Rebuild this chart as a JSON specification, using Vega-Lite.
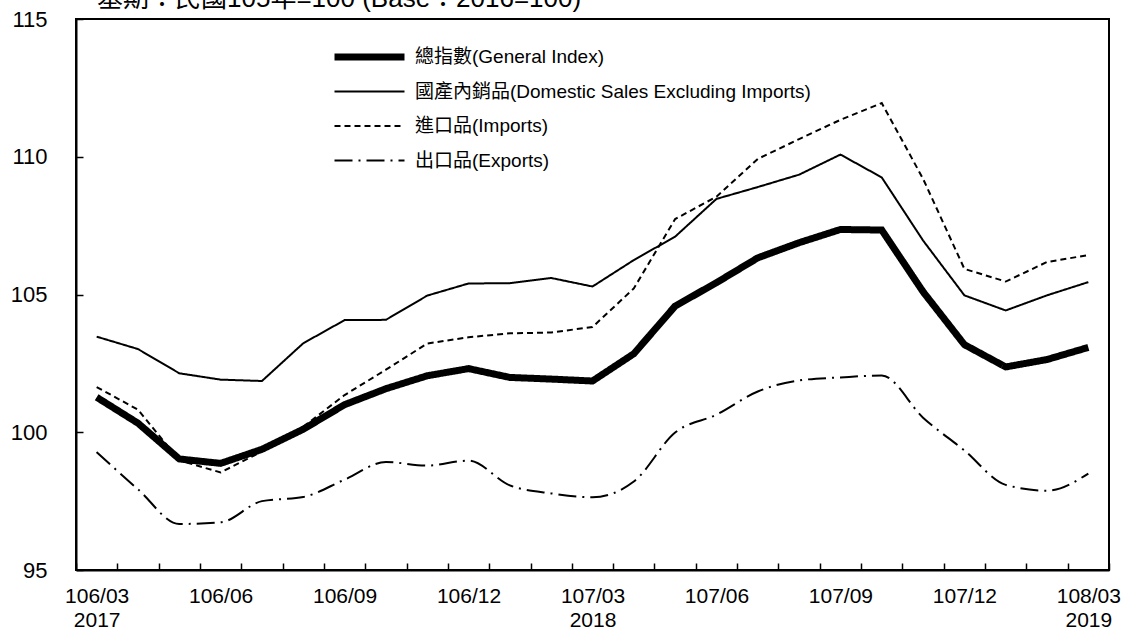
{
  "$schema": "https://vega.github.io/schema/vega-lite/v6.json",
  "width": 1033,
  "height": 551,
  "autosize": {"type": "none"},
  "padding": {"left": 76, "top": 19, "right": 16, "bottom": 62},
  "background": "white",
  "config": {
    "font": "Liberation Sans, Noto Sans CJK TC, sans-serif",
    "view": {"stroke": "black", "strokeWidth": 2}
  },
  "title": {
    "text": "基期：民國105年=100 (Base：2016=100)",
    "anchor": "start",
    "frame": "group",
    "dx": 21,
    "offset": -25,
    "baseline": "alphabetic",
    "fontSize": 26,
    "fontWeight": "normal",
    "color": "black",
    "font": "Liberation Sans, Noto Sans CJK TC, sans-serif"
  },
  "data": {
    "values": [
      {"m": "106/03", "G": 101.27, "D": 103.47, "I": 101.64, "E": 99.28},
      {"m": "106/04", "G": 100.33, "D": 103.02, "I": 100.82, "E": 97.93},
      {"m": "106/05", "G": 99.03, "D": 102.14, "I": 98.98, "E": 96.67},
      {"m": "106/06", "G": 98.87, "D": 101.91, "I": 98.54, "E": 96.73},
      {"m": "106/07", "G": 99.38, "D": 101.86, "I": 99.3, "E": 97.5},
      {"m": "106/08", "G": 100.11, "D": 103.23, "I": 100.2, "E": 97.65},
      {"m": "106/09", "G": 101.0, "D": 104.07, "I": 101.35, "E": 98.28},
      {"m": "106/10", "G": 101.58, "D": 104.08, "I": 102.27, "E": 98.92},
      {"m": "106/11", "G": 102.05, "D": 104.96, "I": 103.22, "E": 98.79},
      {"m": "106/12", "G": 102.31, "D": 105.4, "I": 103.45, "E": 98.97},
      {"m": "107/01", "G": 101.99, "D": 105.41, "I": 103.59, "E": 98.07},
      {"m": "107/02", "G": 101.93, "D": 105.6, "I": 103.62, "E": 97.78},
      {"m": "107/03", "G": 101.86, "D": 105.29, "I": 103.82, "E": 97.64},
      {"m": "107/04", "G": 102.85, "D": 106.25, "I": 105.22, "E": 98.21},
      {"m": "107/05", "G": 104.58, "D": 107.1, "I": 107.74, "E": 99.99},
      {"m": "107/06", "G": 105.43, "D": 108.47, "I": 108.55, "E": 100.64},
      {"m": "107/07", "G": 106.33, "D": 108.9, "I": 109.92, "E": 101.48},
      {"m": "107/08", "G": 106.88, "D": 109.35, "I": 110.64, "E": 101.88},
      {"m": "107/09", "G": 107.36, "D": 110.08, "I": 111.34, "E": 101.99},
      {"m": "107/10", "G": 107.34, "D": 109.25, "I": 111.95, "E": 102.06},
      {"m": "107/11", "G": 105.1, "D": 106.96, "I": 109.2, "E": 100.53},
      {"m": "107/12", "G": 103.18, "D": 104.97, "I": 105.93, "E": 99.34},
      {"m": "108/01", "G": 102.37, "D": 104.42, "I": 105.47, "E": 98.09},
      {"m": "108/02", "G": 102.64, "D": 104.97, "I": 106.18, "E": 97.88},
      {"m": "108/03", "G": 103.08, "D": 105.45, "I": 106.43, "E": 98.5}
    ]
  },
  "transform": [{"fold": ["G", "D", "I", "E"], "as": ["s", "v"]}],
  "encoding": {
    "x": {
      "field": "m",
      "type": "ordinal",
      "sort": null,
      "scale": {"type": "band", "paddingInner": 0, "paddingOuter": 0},
      "axis": {
        "title": null,
        "labelAngle": 0,
        "labelOverlap": false,
        "labelExpr": "datum.value == '106/03' ? ['106/03', '2017'] : datum.value == '107/03' ? ['107/03', '2018'] : datum.value == '108/03' ? ['108/03', '2019'] : indexof(['106/06', '106/09', '106/12', '107/06', '107/09', '107/12'], datum.value) >= 0 ? datum.value : ''",
        "tickBand": "extent",
        "tickSize": -7,
        "tickColor": "black",
        "tickWidth": 1.5,
        "domainColor": "black",
        "domainWidth": 2,
        "labelFontSize": 21,
        "labelColor": "black",
        "labelPadding": 22,
        "labelLineHeight": 24,
        "grid": false
      }
    },
    "y": {
      "field": "v",
      "type": "quantitative",
      "scale": {"domain": [95, 115], "nice": false, "zero": false},
      "axis": {
        "title": null,
        "values": [95, 100, 105, 110, 115],
        "tickSize": -7,
        "tickColor": "black",
        "tickWidth": 1.5,
        "domainColor": "black",
        "domainWidth": 2,
        "labelFontSize": 22,
        "labelColor": "black",
        "labelPadding": 36,
        "grid": false
      }
    },
    "strokeDash": {
      "field": "s",
      "type": "nominal",
      "scale": {"domain": ["G", "D", "I", "E"], "range": [[1, 0], [1, 0], [6, 4], [18, 6, 2, 6]]},
      "legend": {
        "title": null,
        "orient": "none",
        "legendX": 255,
        "legendY": 28,
        "padding": 0,
        "symbolType": "stroke",
        "symbolSize": 4900,
        "symbolStrokeColor": "black",
        "clipHeight": 20,
        "labelFontSize": 19,
        "labelColor": "black",
        "labelLimit": 0,
        "labelOffset": 7,
        "rowPadding": 14.5,
        "labelExpr": "{'G': '總指數(General Index)', 'D': '國產內銷品(Domestic Sales Excluding Imports)', 'I': '進口品(Imports)', 'E': '出口品(Exports)'}[datum.value]"
      }
    },
    "strokeWidth": {
      "field": "s",
      "type": "nominal",
      "scale": {"type": "ordinal", "domain": ["G", "D", "I", "E"], "range": [7, 2, 2, 2]},
      "legend": {
        "title": null,
        "orient": "none",
        "legendX": 255,
        "legendY": 28,
        "padding": 0,
        "symbolType": "stroke",
        "symbolSize": 4900,
        "symbolStrokeColor": "black",
        "clipHeight": 20,
        "labelFontSize": 19,
        "labelColor": "black",
        "labelLimit": 0,
        "labelOffset": 7,
        "rowPadding": 14.5,
        "labelExpr": "{'G': '總指數(General Index)', 'D': '國產內銷品(Domestic Sales Excluding Imports)', 'I': '進口品(Imports)', 'E': '出口品(Exports)'}[datum.value]"
      }
    }
  },
  "layer": [
    {"transform": [{"filter": "datum.s != 'E'"}], "mark": {"type": "line", "color": "black"}},
    {"transform": [{"filter": "datum.s == 'E'"}], "mark": {"type": "line", "color": "black", "interpolate": "monotone"}}
  ]
}
